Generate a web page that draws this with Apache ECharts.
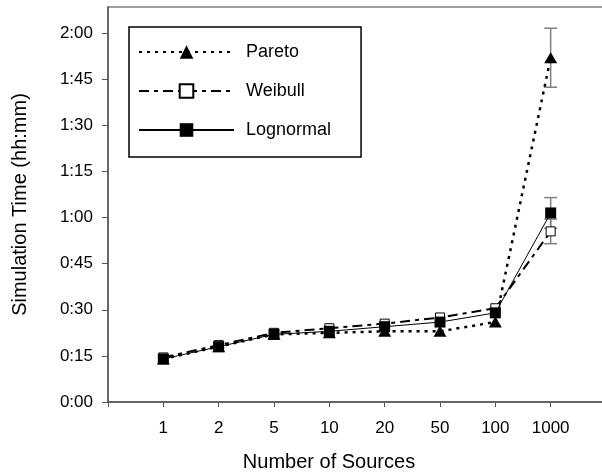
<!DOCTYPE html>
<html>
<head>
<meta charset="utf-8">
<script src="https://cdn.jsdelivr.net/npm/echarts@6/dist/echarts.min.js"></script>
<style>
  html, body { margin: 0; padding: 0; background: #fff; }
  #chart { width: 602px; height: 475px; }
</style>
</head>
<body>
<div id="chart"></div>
<script>
// number of sources (category labels)
const sources = ['1', '2', '5', '10', '20', '50', '100', '1000']
// simulation time in minutes
const pareto    = [14, 18, 22, 22.5, 23, 23, 26, 112]
const weibull   = [14.5, 18.5, 22.5, 24, 25.5, 27.5, 30.5, 55.5]
const lognormal = [14, 18, 22, 23, 24.5, 26, 29, 61.5]
// error bar half widths (minutes)
const paretoErr    = [0, 0, 0, 0, 0, 0, 0, 9.6]
const weibullErr   = [0, 0, 0, 0, 0, 0, 0, 4]
const lognormalErr = [0, 0, 0, 0, 0, 0, 0, 5]
const yTicks = [0, 15, 30, 45, 60, 75, 90, 105, 120]

const font = 'Liberation Sans, Arial, sans-serif'

const toPoints = vals => vals.map((v, i) => [i + 1, v])
const toErr = (vals, errs) => vals
  .map((v, i) => [i + 1, v - errs[i], v + errs[i], errs[i]])
  .filter(d => d[3] > 0)

const fmtTime = v => {
  const h = Math.floor(v / 60)
  const m = Math.round(v % 60)
  return h + ':' + (m < 10 ? '0' + m : m)
}

const errorBar = (name, data) => ({
  name: name + ' err',
  type: 'custom',
  z: 1,
  silent: true,
  data: data,
  renderItem: (params, api) => {
    const x = api.value(0)
    const lo = api.coord([x, api.value(1)])
    const hi = api.coord([x, api.value(2)])
    const half = 6.5
    const style = { stroke: '#7f7f7f', lineWidth: 1.5 }
    return {
      type: 'group',
      children: [
        { type: 'line', shape: { x1: lo[0], y1: lo[1], x2: hi[0], y2: hi[1] }, style },
        { type: 'line', shape: { x1: hi[0] - half, y1: hi[1], x2: hi[0] + half, y2: hi[1] }, style },
        { type: 'line', shape: { x1: lo[0] - half, y1: lo[1], x2: lo[0] + half, y2: lo[1] }, style }
      ]
    }
  }
})

const chart = echarts.init(document.getElementById('chart'))

chart.setOption({
  animation: false,
  textStyle: { fontFamily: font, color: '#000' },
  grid: {
    left: 108, top: 7, right: -4, bottom: 73,
    outerBoundsMode: 'none',
    show: true, borderColor: '#7f7f7f', borderWidth: 1.5
  },
  legend: {
    orient: 'vertical',
    left: 129,
    top: 27,
    padding: [16, 30, 18, 9],
    itemWidth: 95,
    itemHeight: 17,
    itemGap: 21,
    borderColor: '#000',
    borderWidth: 1.5,
    textStyle: { fontSize: 18, fontFamily: font, color: '#000', padding: [0, 0, 0, 7] },
    data: ['Pareto', 'Weibull', 'Lognormal']
  },
  xAxis: {
    type: 'category',
    boundaryGap: false,
    data: [''].concat(sources, ['']),
    name: 'Number of Sources',
    nameLocation: 'middle',
    nameGap: 50,
    nameTextStyle: { fontSize: 20, color: '#000', padding: [0, 56, 0, 0] },
    axisLine: { lineStyle: { color: '#555', width: 1.5 } },
    axisTick: {
      length: 5,
      interval: idx => idx <= sources.length,
      lineStyle: { color: '#555' }
    },
    axisLabel: { fontSize: 17, color: '#000', margin: 18 },
    splitLine: { show: false }
  },
  yAxis: {
    type: 'value',
    min: 0,
    max: 128.5,
    interval: 15,
    name: 'Simulation Time (hh:mm)',
    nameLocation: 'middle',
    nameGap: 78,
    nameTextStyle: { fontSize: 20, color: '#000' },
    axisLine: { show: true, lineStyle: { color: '#555', width: 1.5 } },
    axisTick: { show: true, length: 6, lineStyle: { color: '#555' } },
    axisLabel: {
      fontSize: 17, color: '#000', margin: 15, showMaxLabel: false,
      formatter: v => yTicks.includes(v) ? fmtTime(v) : ''
    },
    splitLine: { show: false }
  },
  series: [
    errorBar('Pareto', toErr(pareto, paretoErr)),
    errorBar('Weibull', toErr(weibull, weibullErr)),
    errorBar('Lognormal', toErr(lognormal, lognormalErr)),
    {
      name: 'Pareto',
      type: 'line',
      z: 3,
      data: toPoints(pareto),
      symbol: 'triangle',
      symbolSize: [13, 11],
      itemStyle: { color: '#000' },
      lineStyle: { color: '#000', width: 2.5, type: [3, 5] }
    },
    {
      name: 'Weibull',
      type: 'line',
      z: 4,
      data: toPoints(weibull),
      symbol: 'rect',
      symbolSize: 9,
      itemStyle: { color: '#fff', borderColor: '#000', borderWidth: 1 },
      lineStyle: { color: '#000', width: 2, type: [10, 5, 4, 5] }
    },
    {
      name: 'Lognormal',
      type: 'line',
      z: 5,
      data: toPoints(lognormal),
      symbol: 'rect',
      symbolSize: 11,
      itemStyle: { color: '#000' },
      lineStyle: { color: '#000', width: 1 }
    }
  ]
})
</script>
</body>
</html>
